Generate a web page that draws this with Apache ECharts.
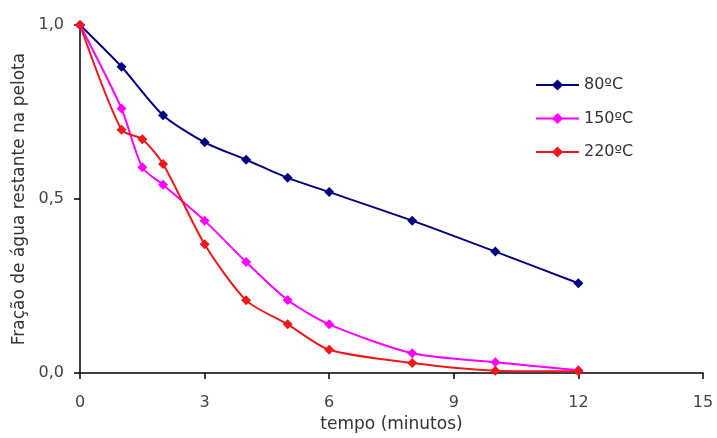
<!DOCTYPE html>
<html>
<head>
<meta charset="utf-8">
<script src="https://cdn.jsdelivr.net/npm/echarts@6/dist/echarts.min.js"></script>
<style>
  html, body { margin: 0; padding: 0; background: #fff; }
  #chart { width: 717px; height: 438px; }
</style>
</head>
<body>
<div id="chart"></div>
<script>
// tempo (minutos)
var tempo80 = [0, 1, 2, 3, 4, 5, 6, 8, 10, 12];
var agua80 = [1.0, 0.88, 0.741, 0.663, 0.613, 0.561, 0.52, 0.438, 0.349, 0.258];

var tempo150 = [0, 1, 1.5, 2, 3, 4, 5, 6, 8, 10, 12];
var agua150 = [1.0, 0.76, 0.591, 0.541, 0.438, 0.319, 0.21, 0.14, 0.057, 0.031, 0.008];

var tempo220 = [0, 1, 1.5, 2, 3, 4, 5, 6, 8, 10, 12];
var agua220 = [1.0, 0.699, 0.672, 0.601, 0.37, 0.209, 0.14, 0.067, 0.029, 0.007, 0.005];

var seriesNames = ["80ºC", "150ºC", "220ºC"];
var seriesColors = ["#000080", "#ff00ff", "#f01818"];

function pares(xs, ys) {
  var out = [];
  for (var i = 0; i < xs.length; i++) out.push([xs[i], ys[i]]);
  return out;
}

var dados = [pares(tempo80, agua80), pares(tempo150, agua150), pares(tempo220, agua220)];

var myChart = echarts.init(document.getElementById("chart"));

var series = [];
for (var i = 0; i < dados.length; i++) {
  series.push({
    name: seriesNames[i],
    type: "line",
    smooth: 0.25,
    data: dados[i],
    symbol: "diamond",
    symbolSize: 10,
    lineStyle: { color: seriesColors[i], width: 2 },
    itemStyle: { color: seriesColors[i] }
  });
}

var fonte = "DejaVu Sans, Verdana, sans-serif";

var option = {
  animation: false,
  textStyle: { fontFamily: fonte },
  grid: { left: 80, right: 14, top: 25, bottom: 64 },
  legend: {
    orient: "vertical",
    left: 530,
    top: 72,
    itemWidth: 43,
    itemHeight: 14,
    itemGap: 17.5,
    data: seriesNames,
    textStyle: { fontSize: 16, color: "#333", fontFamily: fonte }
  },
  xAxis: {
    type: "value",
    min: 0,
    max: 15,
    interval: 3,
    name: "tempo (minutos)",
    nameLocation: "middle",
    nameGap: 42,
    nameTextStyle: { fontSize: 17, color: "#333" },
    splitLine: { show: false },
    axisLine: { lineStyle: { color: "#000", width: 1.5 } },
    axisTick: { lineStyle: { color: "#000", width: 1.5 }, length: 6 },
    axisLabel: { fontSize: 16, color: "#444", margin: 22 }
  },
  yAxis: {
    type: "value",
    min: 0,
    max: 1,
    interval: 0.5,
    name: "Fração de água restante na pelota",
    nameLocation: "middle",
    nameGap: 52,
    nameTextStyle: { fontSize: 17, color: "#333" },
    splitLine: { show: false },
    axisLine: { show: true, lineStyle: { color: "#000", width: 1.5 } },
    axisTick: { show: true, lineStyle: { color: "#000", width: 1.5 }, length: 6 },
    axisLabel: {
      fontSize: 16,
      color: "#444",
      margin: 16,
      formatter: function (v) { return v.toFixed(1).replace(".", ","); }
    }
  },
  series: series
};
myChart.setOption(option);
</script>
</body>
</html>
